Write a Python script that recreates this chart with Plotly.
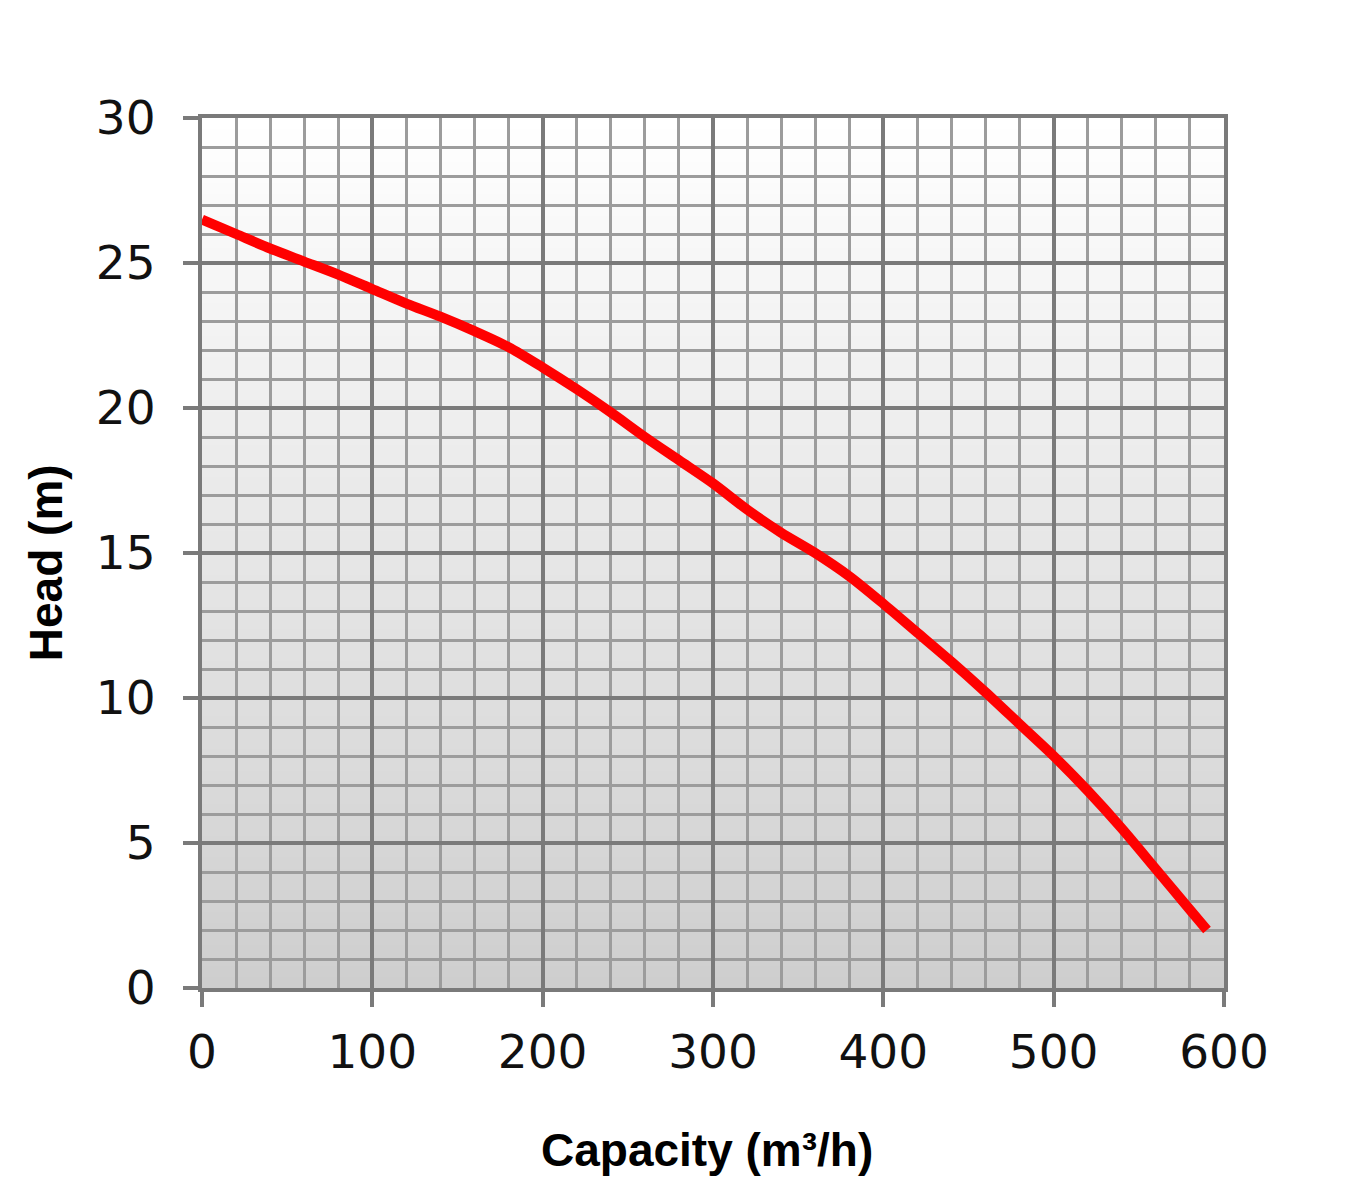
import plotly.graph_objects as go

# Data
capacity = [0, 20, 40, 60, 80, 100, 120, 140, 160, 180, 200, 220, 240, 260, 280,
            300, 320, 340, 360, 380, 400, 420, 440, 460, 480, 500, 520, 540, 560,
            580, 590]
head = [26.5, 26.0, 25.5, 25.05, 24.6, 24.1, 23.6, 23.15, 22.65, 22.1, 21.4,
        20.65, 19.85, 19.0, 18.2, 17.4, 16.5, 15.7, 15.0, 14.2, 13.25, 12.25,
        11.25, 10.2, 9.1, 8.0, 6.8, 5.5, 4.1, 2.7, 2.0]

x_ticks = [0, 100, 200, 300, 400, 500, 600]
y_ticks = [0, 5, 10, 15, 20, 25, 30]

x_title = "Capacity (m³/h)"
y_title = "Head (m)"

fig = go.Figure()
fig.add_trace(go.Scatter(
    x=capacity, y=head, mode="lines",
    line=dict(color="#ff0000", width=10, shape="spline", smoothing=0.8),
    hoverinfo="skip", showlegend=False,
))

# vertical background gradient (white at top to light grey at bottom)
n_bands = 80
shapes = []
top = (255, 255, 255)
bot = (206, 206, 206)
for i in range(n_bands):
    t = (i + 0.5) / n_bands
    c = tuple(int(round(bot[k] + (top[k] - bot[k]) * t)) for k in range(3))
    shapes.append(dict(
        type="rect", xref="paper", yref="paper",
        x0=0, x1=1, y0=i / n_bands, y1=(i + 1) / n_bands + 0.002,
        fillcolor="rgb(%d,%d,%d)" % c, line=dict(width=0), layer="below",
    ))

major_col = "#7a7a7a"
minor_col = "#9c9c9c"
tick_font = dict(family="DejaVu Sans, Verdana, sans-serif", size=47, color="#111111")
title_font = dict(family="Liberation Sans, Arial, sans-serif", size=46, color="black")

fig.update_layout(
    width=1360, height=1200,
    margin=dict(l=194, r=144, t=110, b=220),
    paper_bgcolor="white", plot_bgcolor="white",
    shapes=shapes,
    xaxis=dict(
        range=[0, 600], tickvals=x_ticks, ticktext=[str(v) for v in x_ticks],
        showgrid=True, gridcolor=major_col, gridwidth=4,
        minor=dict(dtick=20, showgrid=True, gridcolor=minor_col, gridwidth=2.5),
        showline=True, linecolor=major_col, linewidth=4, mirror=True,
        ticks="outside", ticklen=15, tickwidth=4, tickcolor=major_col,
        tickfont=tick_font, ticklabelstandoff=5, zeroline=False,
        fixedrange=True,
    ),
    yaxis=dict(
        range=[0, 30], tickvals=y_ticks, ticktext=[str(v) for v in y_ticks],
        showgrid=True, gridcolor=major_col, gridwidth=4,
        minor=dict(dtick=1, showgrid=True, gridcolor=minor_col, gridwidth=2.5),
        showline=True, linecolor=major_col, linewidth=4, mirror=True,
        ticks="outside", ticklen=15, tickwidth=4, tickcolor=major_col,
        tickfont=tick_font, ticklabelstandoff=18, zeroline=False,
        fixedrange=True,
    ),
    annotations=[
        dict(text="<b>%s</b>" % x_title, xref="paper", yref="paper",
             x=0.494, y=-0.186, xanchor="center", yanchor="middle",
             showarrow=False, font=title_font),
        dict(text="<b>%s</b>" % y_title, xref="paper", yref="paper",
             x=-0.153, y=0.489, xanchor="center", yanchor="middle",
             textangle=-90, showarrow=False, font=title_font),
    ],
)

fig.write_html("out.html")
